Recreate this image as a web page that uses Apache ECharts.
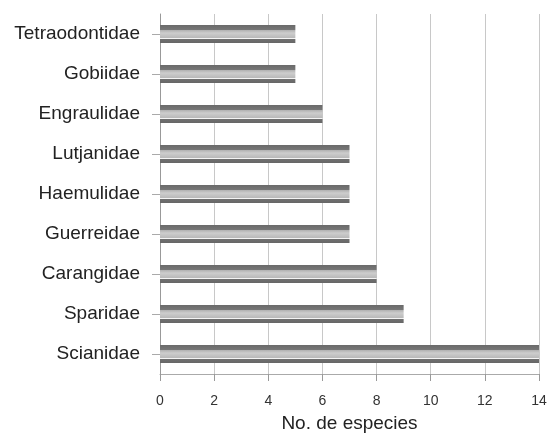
<!DOCTYPE html>
<html><head><meta charset="utf-8">
<script src="https://cdn.jsdelivr.net/npm/echarts@6/dist/echarts.min.js"></script>
<style>html,body{margin:0;padding:0;background:#fff}#c{width:551px;height:438px}</style>
</head><body><div id="c"></div>
<script>
const categories = ['Scianidae','Sparidae','Carangidae','Guerreidae','Haemulidae','Lutjanidae','Engraulidae','Gobiidae','Tetraodontidae'];
const values = [14, 9, 8, 7, 7, 7, 6, 5, 5];
const xTicks = [0, 2, 4, 6, 8, 10, 12, 14];

const chart = echarts.init(document.getElementById('c'));
const barFill = {
  type: 'linear', x: 0, y: 0, x2: 0, y2: 1,
  colorStops: [
    {offset: 0, color: '#6a6a6a'}, {offset: 0.28, color: '#777'},
    {offset: 0.28, color: '#b0b0b0'}, {offset: 0.45, color: '#cdcdcd'}, {offset: 0.7, color: '#bababa'},
    {offset: 0.7, color: '#f4f4f4'}, {offset: 0.76, color: '#f4f4f4'},
    {offset: 0.76, color: '#717171'}, {offset: 1, color: '#666'}
  ]
};
chart.setOption({
  animation: false,
  textStyle: {fontFamily: 'Liberation Sans'},
  grid: {left: 160, right: 12, top: 14, bottom: 61, containLabel: false},
  xAxis: {
    type: 'value', min: 0, max: 14, interval: 2,
    name: 'No. de especies', nameLocation: 'middle', nameGap: 40,
    nameTextStyle: {fontSize: 19, color: '#222'},
    axisLine: {show: true, lineStyle: {color: '#aaa'}},
    axisTick: {show: true, length: 7, lineStyle: {color: '#999'}},
    axisLabel: {fontSize: 14, color: '#333', margin: 20, formatter: v => xTicks.includes(v) ? String(v) : ''},
    splitLine: {show: true, lineStyle: {color: '#c8c8c8', width: 1}}
  },
  yAxis: {
    type: 'category', data: categories,
    axisLine: {show: true, lineStyle: {color: '#999'}},
    axisTick: {show: true, alignWithLabel: true, length: 8, lineStyle: {color: '#aaa'}},
    axisLabel: {fontSize: 19, color: '#222', margin: 20}
  },
  series: [{
    type: 'bar', data: values, barWidth: 18,
    itemStyle: {color: barFill}
  }]
});
</script></body></html>
